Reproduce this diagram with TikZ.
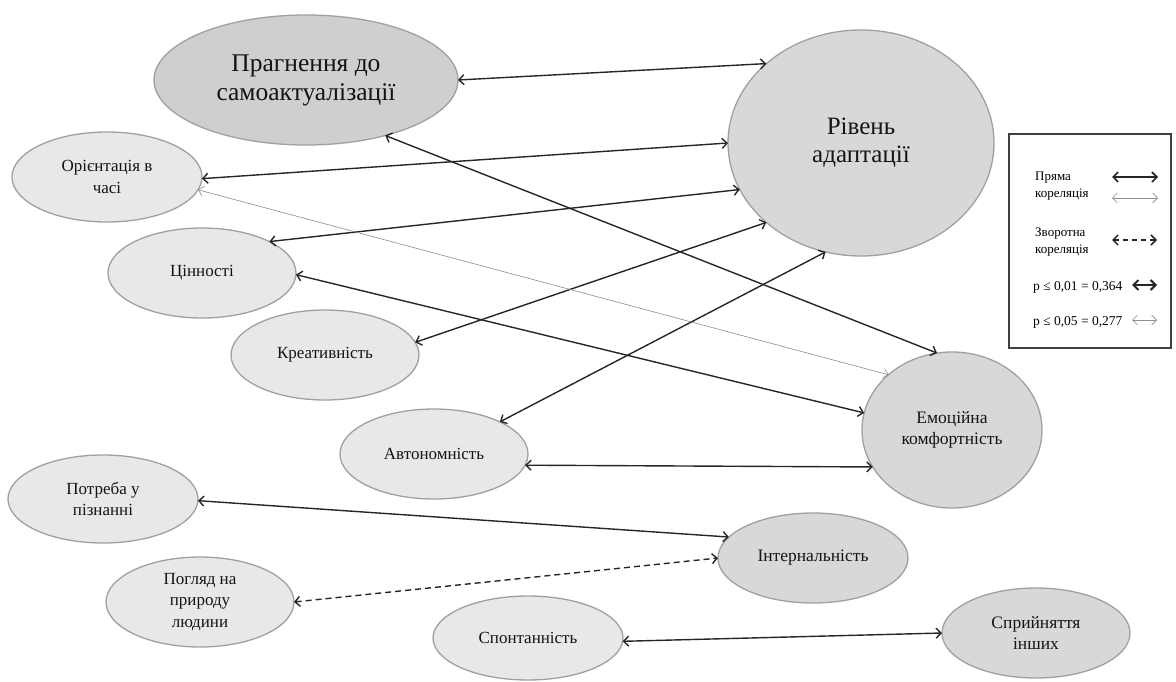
\documentclass[tikz,border=0pt]{standalone}
\usepackage{fontspec}
\setmainfont{Liberation Serif}
\usetikzlibrary{shapes.geometric,arrows.meta}
\definecolor{bigfill}{HTML}{D8D8D8}
\definecolor{smallfill}{HTML}{E8E8E8}
\definecolor{edgegray}{HTML}{A0A0A0}
\begin{document}
\begin{tikzpicture}[x=1pt,y=-1pt,
  >={Straight Barb[length=5pt,width=10pt]},
  el/.style={ellipse, draw=edgegray, line width=1.3pt, inner sep=0pt, outer sep=0pt, align=center, text=black!92},
  bignode/.style={el, fill=bigfill},
  smallnode/.style={el, fill=smallfill, font=\fontsize{17}{21.5}\selectfont},
  strong/.style={<->, line width=1.4pt, black!85},
  weak/.style={<->, line width=0.6pt, black!45},
  inverse/.style={<->, line width=1.4pt, black!85, dash pattern=on 6pt off 4pt},
  legtext/.style={font=\fontsize{13}{17}\selectfont, align=left, anchor=west, inner sep=0pt},
  pval/.style={font=\fontsize{13.5}{16}\selectfont, anchor=west, inner sep=0pt}
]
\useasboundingbox (0,0) rectangle (1176,681);

% main nodes
\node[bignode, fill=black!19, minimum width=304pt, minimum height=130pt, font=\fontsize{25.5}{29}\selectfont] (pr) at (306,80) {Прагнення до\\самоактуалізації};
\node[bignode, minimum width=266pt, minimum height=226pt, font=\fontsize{25}{28}\selectfont] (riv) at (861,143) {Рівень\\адаптації};
\node[bignode, minimum width=180pt, minimum height=156pt, font=\fontsize{17.5}{21}\selectfont] (emo) at (952,430) {Емоційна\\комфортність};
\node[bignode, minimum width=190pt, minimum height=90pt, font=\fontsize{17.5}{21}\selectfont] (int) at (813,558) {Інтернальність};
\node[bignode, minimum width=188pt, minimum height=90pt, font=\fontsize{17.5}{21}\selectfont] (spr) at (1036,633) {Сприйняття\\інших};

\node[smallnode, minimum width=190pt, minimum height=90pt] (ori) at (107,177) {Орієнтація в\\часі};
\node[smallnode, minimum width=188pt, minimum height=90pt] (cin) at (202,273) {Цінності};
\node[smallnode, minimum width=188pt, minimum height=90pt] (kre) at (325,355) {Креативність};
\node[smallnode, minimum width=188pt, minimum height=90pt] (avt) at (434,454) {Автономність};
\node[smallnode, minimum width=190pt, minimum height=88pt] (pot) at (103,499) {Потреба у\\пізнанні};
\node[smallnode, minimum width=188pt, minimum height=90pt] (pog) at (200,602) {Погляд на\\природу\\людини};
\node[smallnode, minimum width=190pt, minimum height=84pt] (spo) at (528,638) {Спонтанність};

% connectors
\draw[strong] (pr.0) -- (riv.140);
\draw[strong] (ori.-1) -- (riv.180);
\draw[strong] (cin.25) -- (riv.201.7);
\draw[strong] (kre.8) -- (riv.220.5);
\draw[strong] (avt.26) -- (riv.252);
\draw[strong] (pr.-35.6) -- (emo.101);
\draw[weak] (ori.-8) -- (emo.139);
\draw[strong] (cin.-1) -- (emo.169);
\draw[strong] (avt.-7.4) -- (emo.205);
\draw[strong] (pot.-1) -- (int.166);
\draw[inverse] (pog.0) -- (int.180);
\draw[strong] (spo.-2) -- (spr.180);

% legend
\node[draw=black!75, line width=1.5pt, minimum width=162pt, minimum height=214pt, inner sep=0pt, anchor=north west] (legbox) at (1008,133) {};
\node[legtext] (l1) at (1035,186) {Пряма\\кореляція};
\coordinate (a1s) at (1112,177); \coordinate (a1e) at (1158,177);
\coordinate (a2s) at (1112,198); \coordinate (a2e) at (1158,198);
\draw[strong, line width=1.6pt] (a1s) -- (a1e);
\draw[weak] (a2s) -- (a2e);
\node[legtext] (l2) at (1035,242) {Зворотна\\кореляція};
\coordinate (a3s) at (1112,240); \coordinate (a3e) at (1157,240);
\draw[inverse, line width=1.5pt, dash pattern=on 5pt off 4pt] (a3s) -- (a3e);
\node[pval] (l3) at (1033,287) {p ≤ 0,01 = 0,364};
\coordinate (a4s) at (1132,285); \coordinate (a4e) at (1157,285);
\draw[strong, line width=2pt] (a4s) -- (a4e);
\node[pval] (l4) at (1033,322) {p ≤ 0,05 = 0,277};
\coordinate (a5s) at (1132,320); \coordinate (a5e) at (1157,320);
\draw[weak] (a5s) -- (a5e);
\end{tikzpicture}
\end{document}
